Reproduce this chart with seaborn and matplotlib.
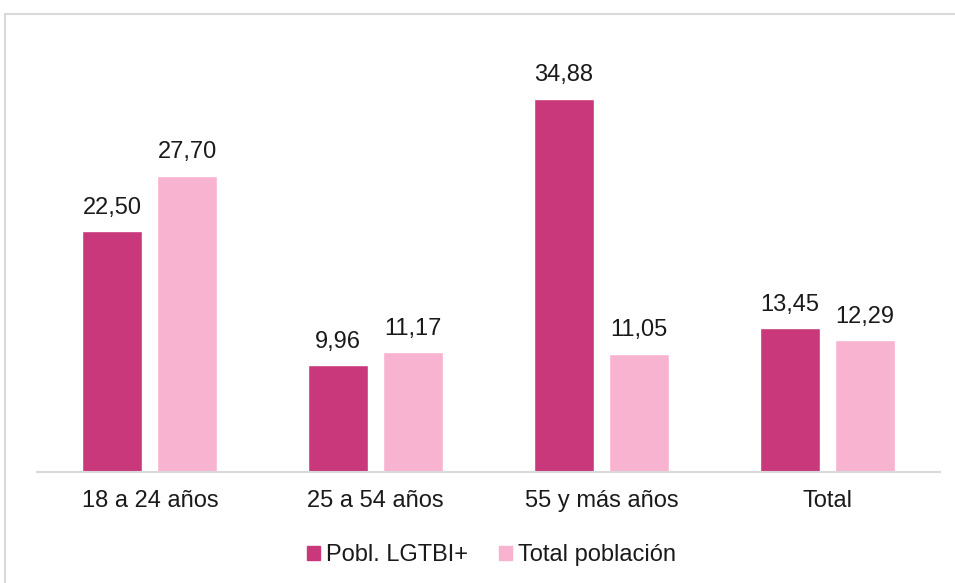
import numpy as np
import pandas as pd
import matplotlib
matplotlib.use('Agg')
import matplotlib.pyplot as plt
from matplotlib.patches import Rectangle
import seaborn as sns

categorias = ['18 a 24 años', '25 a 54 años', '55 y más años', 'Total']
series = ['Pobl. LGTBI+', 'Total población']
lgtbi = [22.50, 9.96, 34.88, 13.45]
total = [27.70, 11.17, 11.05, 12.29]
colores = ['#C9387A', '#F8B3D1']

df = pd.DataFrame({
    'cat': categorias * 2,
    'serie': [series[0]] * 4 + [series[1]] * 4,
    'valor': lgtbi + total,
})

sns.set_style('white')
plt.rcParams['font.family'] = ['Liberation Sans', 'DejaVu Sans']

fig = plt.figure(figsize=(9.55, 5.83), dpi=100)
ax = fig.add_axes([37 / 955, 1 - 472 / 583, 903 / 955, 428 / 583])

sns.barplot(data=df, x='cat', y='valor', hue='serie', palette=colores,
            width=0.664, gap=0.2, saturation=1, ax=ax, legend=False)

for cont in ax.containers:
    ax.bar_label(cont, labels=[f'{v:.2f}'.replace('.', ',') for v in cont.datavalues],
                 padding=9, fontsize=17, color='#1a1a1a')

ax.set_ylim(0, 40)
ax.set_xlim(-0.5, 3.5)
ax.set_xlabel('')
ax.set_ylabel('')
ax.set_yticks([])
ax.tick_params(axis='x', length=0, pad=13, labelsize=17, labelcolor='#1a1a1a')
for s in ['top', 'left', 'right']:
    ax.spines[s].set_visible(False)
ax.spines['bottom'].set_color('#D9D9D9')
ax.spines['bottom'].set_linewidth(1.5)

handles = [Rectangle((0, 0), 1, 1, color=c) for c in colores]
fig.legend(handles, series, loc='center', bbox_to_anchor=(491.5 / 955, 1 - 555 / 583),
           ncol=2, frameon=False, fontsize=17, handlelength=0.55, handleheight=0.55,
           handletextpad=0.22, columnspacing=1.35, labelcolor='#1a1a1a')

fig.patches.append(Rectangle((4.5 / 955, -0.1), 1.5, 1.1 - 14.5 / 583,
                             transform=fig.transFigure, fill=False,
                             edgecolor='#D9D9D9', linewidth=1.5))

fig.savefig('out.png', dpi=100)
